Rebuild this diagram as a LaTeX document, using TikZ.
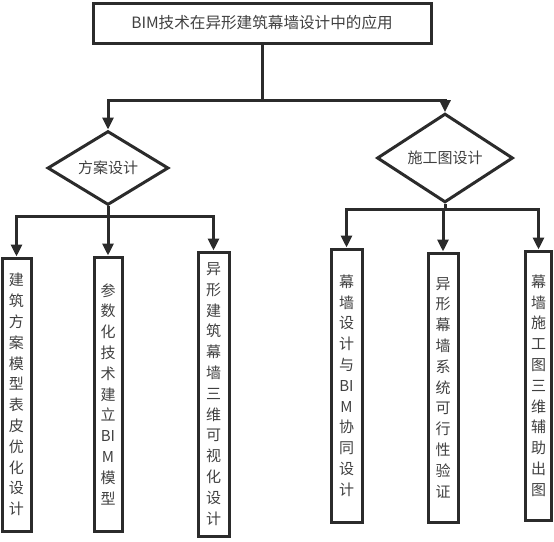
\documentclass[tikz,border=0pt]{standalone}
\usepackage{fontspec}
\setmainfont{Noto Sans CJK SC}
\usetikzlibrary{shapes.geometric,arrows.meta}
\definecolor{linegray}{HTML}{2B2B2B}
\definecolor{textgray}{HTML}{404040}
\tikzset{
  titlebox/.style={draw=linegray,line width=3pt,text=textgray,inner sep=0pt,font=\fontsize{15.6pt}{20pt}\selectfont},
  choice/.style={diamond,draw=linegray,line width=3pt,text=textgray,inner sep=0pt,font=\fontsize{15pt}{20pt}\selectfont},
  leafbox/.style={draw=linegray,line width=3pt,text=textgray,inner sep=0pt,align=center,font=\fontsize{15pt}{20.8pt}\selectfont},
  arr/.style={draw=linegray,line width=3pt,-{Triangle[width=11pt,length=12pt]}}
}
\begin{document}
\begin{tikzpicture}[x=1pt,y=-1pt]
        \useasboundingbox (0,0) rectangle (554,541);

        % title and the two stages
        \node[titlebox,minimum width=338pt,minimum height=40pt] (top) at (262,23) {BIM技术在异形建筑幕墙设计中的应用};
        \node[choice,minimum width=121pt,minimum height=48pt] (fa) at (108,168) {方案设计};
        \node[choice,minimum width=136pt,minimum height=58pt] (sg) at (445,158) {施工图设计};

        % leaves of the first stage
        \node[leafbox,minimum width=29pt,minimum height=273pt] (b1) at (16.5,394.5)
                {建\\筑\\方\\案\\模\\型\\表\\皮\\优\\化\\设\\计};
        \node[leafbox,minimum width=28pt,minimum height=274pt] (b2) at (108,394)
                {参\\数\\化\\技\\术\\建\\立\\BI\\M\\模\\型};
        \node[leafbox,minimum width=31pt,minimum height=284pt] (b3) at (213.5,394)
                {异\\形\\建\\筑\\幕\\墙\\三\\维\\可\\视\\化\\设\\计};

        % leaves of the second stage
        \node[leafbox,minimum width=31pt,minimum height=273pt] (b4) at (346.5,385.5)
                {幕\\墙\\设\\计\\与\\BI\\M\\协\\同\\设\\计};
        \node[leafbox,minimum width=30pt,minimum height=269pt] (b5) at (443,387.5)
                {异\\形\\幕\\墙\\系\\统\\可\\行\\性\\验\\证};
        \node[leafbox,minimum width=26pt,minimum height=269pt] (b6) at (538.5,385.5)
                {幕\\墙\\施\\工\\图\\三\\维\\辅\\助\\出\\图};

        % junctions
        \coordinate (j0) at (262,100);
        \coordinate (j1) at (108,216);
        \coordinate (j2) at (443,209);

        % connectors
        \draw[arr] (top.south) -- (j0) -| (fa.north);
        \draw[arr] (j0) -| (sg.north);
        \draw[arr] (fa.south) -- (j1) -| (b1.north);
        \draw[arr] (j1) -- (b2.north);
        \draw[arr] (j1) -| (b3.north);
        \draw[arr] (sg.south) |- (j2) -| (b4.north);
        \draw[arr] (j2) -- (b5.north);
        \draw[arr] (j2) -| (b6.north);
\end{tikzpicture}
\end{document}
